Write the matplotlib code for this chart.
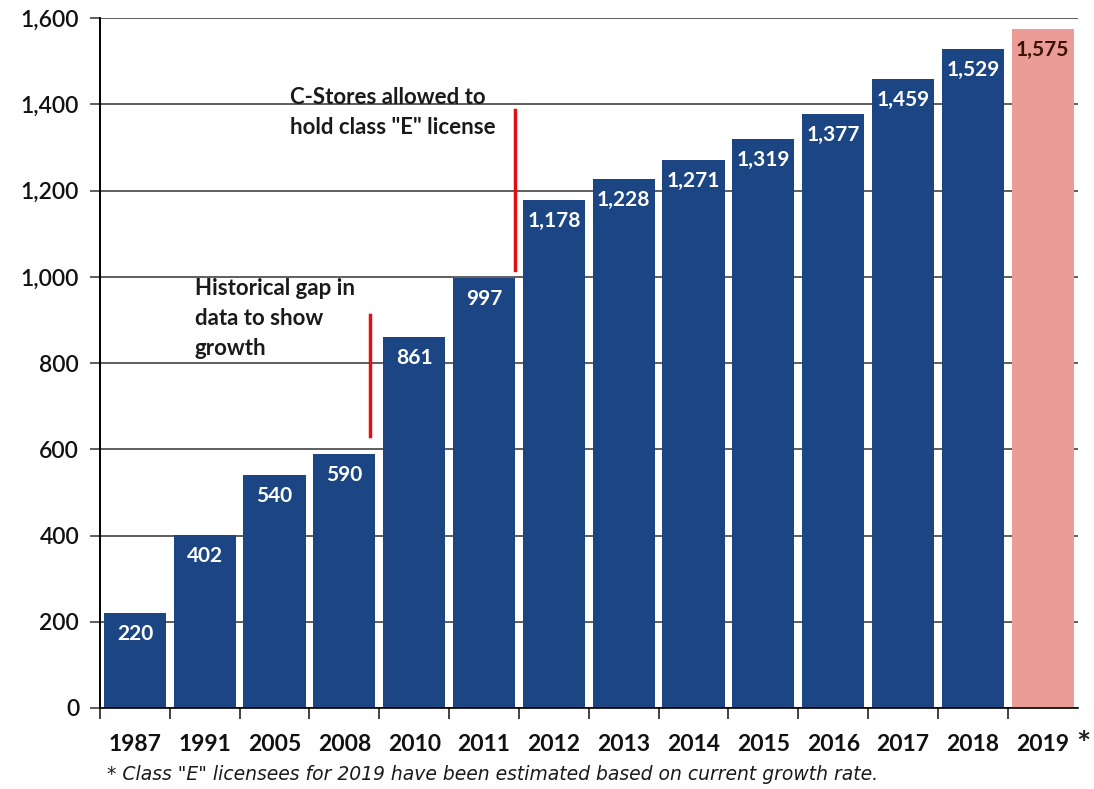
import numpy as np
import matplotlib.pyplot as plt

years = ['1987', '1991', '2005', '2008', '2010', '2011', '2012',
         '2013', '2014', '2015', '2016', '2017', '2018', '2019']
licenses = [220, 402, 540, 590, 861, 997, 1178,
            1228, 1271, 1319, 1377, 1459, 1529, 1575]
yticks = [0, 200, 400, 600, 800, 1000, 1200, 1400, 1600]

navy = '#1c4583'
salmon = '#ec9c96'
colors = [navy] * (len(years) - 1) + [salmon]

plt.rcParams['font.family'] = ['Lato', 'DejaVu Sans']

fig = plt.figure(figsize=(10.94, 7.89), dpi=100)
ax = fig.add_axes([0.0914, 0.1027, 0.8936, 0.8743])

x = np.arange(len(years))
ax.set_axisbelow(True)
ax.yaxis.grid(True, color='#333333', linewidth=1.1)
bars = ax.bar(x, licenses, width=0.89, color=colors, zorder=2)

for i, (b, v) in enumerate(zip(bars, licenses)):
    tc = 'white' if i < len(years) - 1 else '#3a1208'
    ax.annotate(f'{v:,}', (b.get_x() + b.get_width() / 2, v),
                xytext=(0, -8), textcoords='offset points',
                ha='center', va='top', color=tc, fontsize=15,
                fontweight='bold')

ax.set_xlim(-0.5, len(years) - 0.5)
ax.set_ylim(0, 1600)
ax.set_yticks(yticks)
ax.set_yticklabels([f'{t:,}' for t in yticks], fontsize=16.5,
                   fontweight='semibold', color='#111111')

ax.set_xticks(x)
ax.set_xticklabels(years, fontsize=16.5, fontweight='bold', color='#111111')
ax.tick_params(axis='x', length=0, pad=19)
ax.set_xticks(np.arange(len(years)) - 0.5, minor=True)
ax.tick_params(axis='x', which='minor', length=8, width=1.2, color='#222222')
ax.tick_params(axis='y', length=7, width=1.1, color='#333333', pad=8)

for s in ['top', 'right']:
    ax.spines[s].set_visible(False)
ax.spines['left'].set_linewidth(1.4)
ax.spines['bottom'].set_linewidth(1.2)

# annotations with red markers
ax.plot([3.36, 3.36], [630, 912], color='#e01010', linewidth=2.5, zorder=3)
ax.plot([5.45, 5.45], [1016, 1387], color='#e01010', linewidth=2.5, zorder=3)
ax.text(0.86, 998, 'Historical gap in\ndata to show\ngrowth', fontsize=16,
        fontweight='bold', color='#1a1a1a', va='top', ha='left',
        linespacing=1.55)
ax.text(2.22, 1440, 'C-Stores allowed to\nhold class "E" license', fontsize=16,
        fontweight='bold', color='#1a1a1a', va='top', ha='left',
        linespacing=1.55)

fig.text(0.984, 0.055, '*', fontsize=24, fontweight='bold', color='#222222',
         ha='left', va='center')
fig.text(0.098, 0.019, '* Class "E" licensees for 2019 have been estimated based on current growth rate.',
         fontsize=13.5, style='italic', color='#1a1a1a', ha='left', va='center',
         family='DejaVu Sans')

fig.savefig('out.png', dpi=100)
